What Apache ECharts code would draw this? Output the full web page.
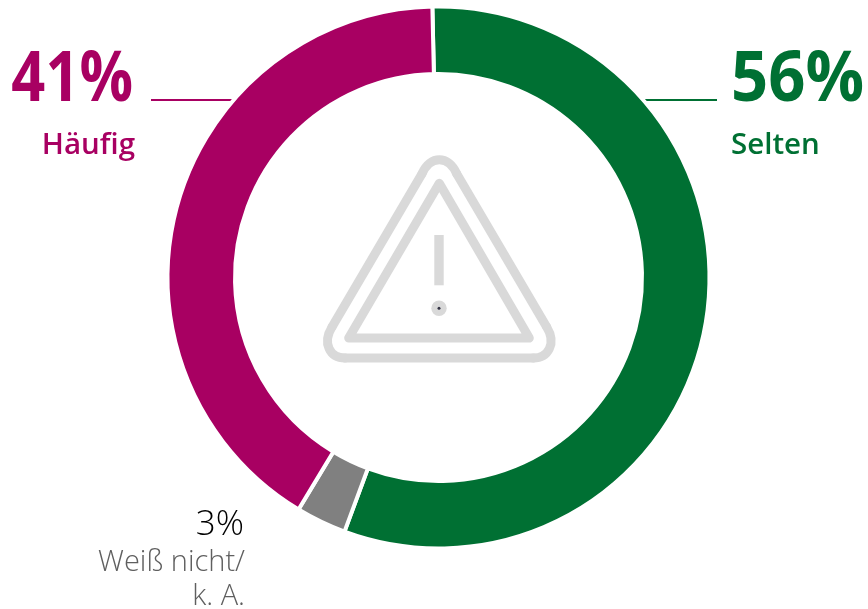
<!DOCTYPE html>
<html><head><meta charset="utf-8">
<script src="https://cdn.jsdelivr.net/npm/echarts@6/dist/echarts.min.js"></script>
<style>html,body{margin:0;padding:0;background:#fff}#c{width:868px;height:609px}</style></head>
<body><div id="c"></div>
<script>
const categories = ['Selten', 'Weiß nicht/\nk. A.', 'Häufig'];
const values = [56, 3, 41];
const percentLabels = ['56%', '3%', '41%'];
const colors = ['#007033', '#808080', '#a80062'];
const grey = '#d9d9d9';
const txt = (x, y, text, size, fill, align, weight, sx) => ({
  type: 'text', x, y, scaleX: sx || 1, silent: true,
  style: { text, fill, align, verticalAlign: 'middle',
    font: `${weight} ${size}px "Open Sans"` }
});
const stroke = { fill: 'none', stroke: grey, lineWidth: 9, lineCap: 'round' };
const seg = (x1, y1, x2, y2) => ({ type: 'line', shape: { x1, y1, x2, y2 }, style: stroke });
const curve = (x1, y1, cpx1, cpy1, cpx2, cpy2, x2, y2) => ({
  type: 'bezierCurve', shape: { x1, y1, cpx1, cpy1, cpx2, cpy2, x2, y2 }, style: stroke
});
const chart = echarts.init(document.getElementById('c'), null, { renderer: 'canvas' });
chart.setOption({
  animation: false,
  backgroundColor: '#fff',
  series: [{
    type: 'pie', center: [438.5, 277.5], radius: [203.5, 271], startAngle: 91.3,
    silent: true, label: { show: false }, labelLine: { show: false },
    itemStyle: { borderColor: '#fff', borderWidth: 4 },
    data: categories.map((name, i) => ({ name, value: values[i], itemStyle: { color: colors[i] } }))
  }],
  graphic: [
    { type: 'line', shape: { x1: 151, y1: 100, x2: 237, y2: 100 }, style: { stroke: colors[2], lineWidth: 2 } },
    { type: 'line', shape: { x1: 640, y1: 100, x2: 717, y2: 100 }, style: { stroke: colors[0], lineWidth: 2 } },
    txt(133, 81, percentLabels[2], 70, colors[2], 'right', 700, 0.85),
    txt(135, 146, categories[2], 29.5, colors[2], 'right', 600),
    txt(731, 81, percentLabels[0], 70, colors[0], 'left', 700, 0.93),
    txt(731, 146, categories[0], 29.5, colors[0], 'left', 600),
    txt(244, 525, percentLabels[1], 35, '#000', 'right', 300),
    txt(245, 563, 'Weiß nicht/', 29, '#5f5f5f', 'right', 300),
    txt(245, 597, 'k. A.', 29, '#5f5f5f', 'right', 300),
    curve(422, 173.7, 430, 155, 448.7, 155, 456.7, 173.7),
    seg(456.7, 173.7, 546.7, 327),
    curve(546.7, 327, 556.7, 343.3, 548.3, 358, 533.3, 358),
    seg(533.3, 358, 345, 358),
    curve(345, 358, 330, 358, 322, 343.3, 332, 327),
    seg(332, 327, 422, 173.7),
    { type: 'polygon', shape: { points: [[439.3, 183.3], [529.3, 338], [348.7, 338]] },
      style: { fill: 'none', stroke: grey, lineWidth: 9, lineJoin: 'round' } },
    { type: 'rect', shape: { x: 434.3, y: 235, width: 9.4, height: 50.3 }, style: { fill: grey } },
    { type: 'circle', shape: { cx: 439, cy: 308.3, r: 7.7 }, style: { fill: grey } },
    { type: 'circle', shape: { cx: 439, cy: 308.3, r: 1.5 }, style: { fill: '#334' } }
  ]
});
</script></body></html>
